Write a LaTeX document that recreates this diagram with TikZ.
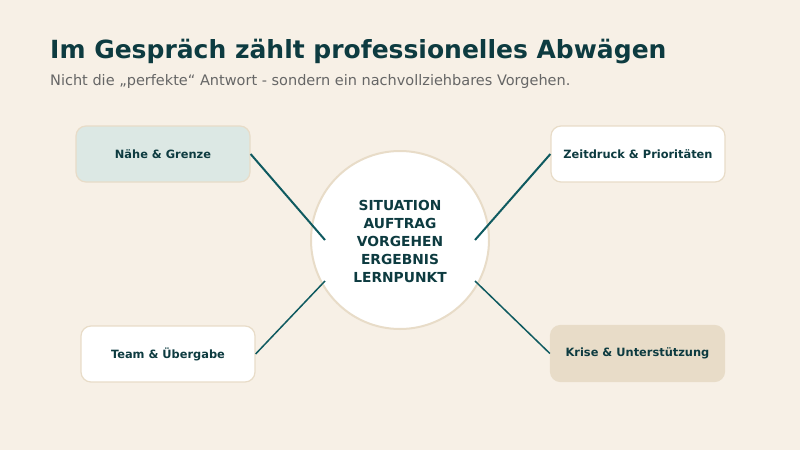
\documentclass[tikz,border=0pt]{standalone}
\usepackage{fontspec}
\setmainfont{DejaVu Sans}
\definecolor{bg}{HTML}{F7F0E6}
\definecolor{ink}{HTML}{0D3B40}
\definecolor{sub}{HTML}{666666}
\definecolor{line}{HTML}{0F5A60}
\definecolor{rim}{HTML}{E8DCC8}
\definecolor{mint}{HTML}{DCE8E4}
\definecolor{sand}{HTML}{E8DCC8}
\begin{document}
\begin{tikzpicture}[x=1pt,y=-1pt,
  topic/.style={draw=rim,line width=1.2pt,rounded corners=10pt,minimum width=174pt,minimum height=56pt,inner sep=0pt,
    font=\bfseries\fontsize{11.4}{13}\selectfont,text=ink},
  link/.style={draw=line,line width=2pt},
  linkthin/.style={draw=line,line width=1.5pt}]
\fill[bg] (0,0) rectangle (800,450);
\useasboundingbox (0,0) rectangle (800,450);
\node[anchor=base west,inner sep=0pt,text=ink,font=\bfseries\fontsize{25}{29}\selectfont] (title) at (50,58) {Im Gespräch zählt professionelles Abwägen};
\node[anchor=base west,inner sep=0pt,text=sub,font=\fontsize{14.5}{17}\selectfont] (subtitle) at (50,85) {Nicht die „perfekte“ Antwort - sondern ein nachvollziehbares Vorgehen.};
\node[circle,draw=rim,line width=2pt,fill=white,minimum size=178pt,inner sep=0pt] (hub) at (400,240) {};
\node[align=center,inner sep=0pt,text=ink,font=\bfseries\fontsize{13.8}{18}\selectfont] (hubtext) at (400,241.5) {SITUATION\\AUFTRAG\\VORGEHEN\\ERGEBNIS\\LERNPUNKT};
\node[topic,fill=mint] (a) at (163,154) {Nähe \& Grenze};
\node[topic,fill=white] (b) at (168,354) {Team \& Übergabe};
\node[topic,fill=white] (c) at (638,154) {Zeitdruck \& Prioritäten};
\node[topic,fill=sand] (d) at (637.5,353.5) {Krise \& Unterstützung};
\coordinate (pa) at (325,240);
\coordinate (pb) at (325,281);
\coordinate (pc) at (475,240);
\coordinate (pd) at (475,281);
\draw[link] (a.east) -- (pa);
\draw[linkthin] (b.east) -- (pb);
\draw[link] (c.west) -- (pc);
\draw[linkthin] (d.west) -- (pd);
\end{tikzpicture}
\end{document}
